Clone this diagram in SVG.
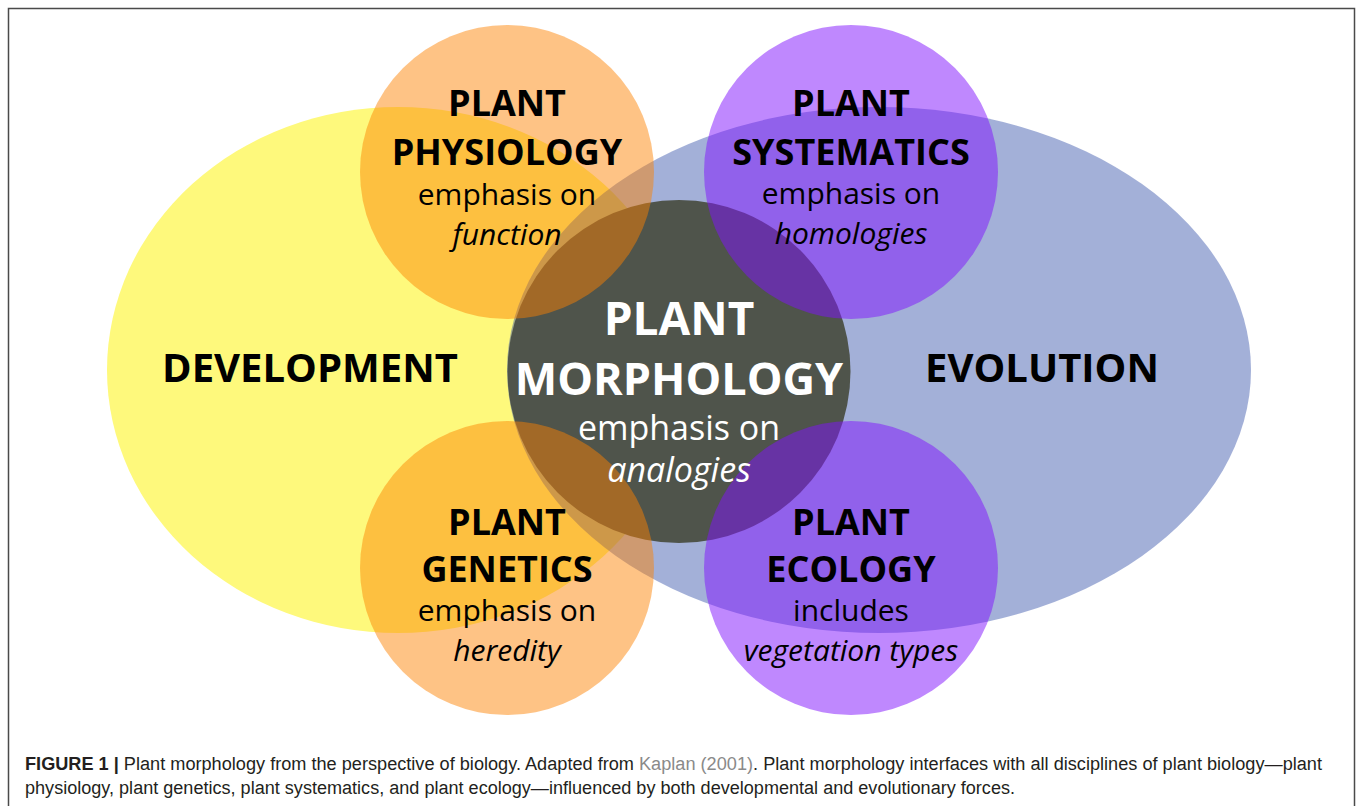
<svg xmlns="http://www.w3.org/2000/svg" width="1357" height="806" viewBox="0 0 1357 806">
<style>
.t{font-family:"Open Sans","Noto Sans","DejaVu Sans",sans-serif;text-anchor:middle;fill:#000}
.b{font-weight:700}
.h{font-size:36px}
.s{font-size:30px}
.i{font-style:italic}
.w{fill:#fff}
.cap{font-family:"Liberation Sans",Arial,sans-serif;font-size:18px;fill:#231f20}
</style>
<rect width="1357" height="806" fill="#fff"/>
<rect x="8.5" y="8.5" width="1346" height="820" fill="none" stroke="#4a4a4a" stroke-width="1.5"/>

<g id="development">
<ellipse cx="398" cy="370" rx="291" ry="263" fill="#fef97c"/>
<text class="t b" x="310" y="382" font-size="40">DEVELOPMENT</text>
</g>
<g id="evolution">
<ellipse cx="879" cy="370" rx="372" ry="263" fill="rgb(41,71,164)" fill-opacity="0.43"/>
<text class="t b" x="1042" y="382" font-size="40">EVOLUTION</text>
</g>
<g id="morphology">
<circle cx="679" cy="371.5" r="171.5" fill="#4f544b"/>
</g>
<g id="physiology">
<circle cx="507" cy="172" r="147" fill="rgb(253,130,0)" fill-opacity="0.48"/>
<text class="t b h" x="507" y="116">PLANT</text>
<text class="t b h" x="507" y="165">PHYSIOLOGY</text>
<text class="t s" x="507" y="205">emphasis on</text>
<text class="t s i" x="507" y="245">function</text>
</g>
<g id="systematics">
<circle cx="851" cy="172" r="147" fill="rgb(127,17,253)" fill-opacity="0.5"/>
<text class="t b h" x="851" y="116">PLANT</text>
<text class="t b h" x="851" y="165">SYSTEMATICS</text>
<text class="t s" x="851" y="204">emphasis on</text>
<text class="t s i" x="851" y="244">homologies</text>
</g>
<g id="genetics">
<circle cx="507" cy="568" r="147" fill="rgb(253,130,0)" fill-opacity="0.48"/>
<text class="t b h" x="507" y="535">PLANT</text>
<text class="t b h" x="507" y="582">GENETICS</text>
<text class="t s" x="507" y="621">emphasis on</text>
<text class="t s i" x="507" y="661">heredity</text>
</g>
<g id="ecology">
<circle cx="851" cy="568" r="147" fill="rgb(127,17,253)" fill-opacity="0.5"/>
<text class="t b h" x="851" y="535">PLANT</text>
<text class="t b h" x="851" y="582">ECOLOGY</text>
<text class="t s" x="851" y="621">includes</text>
<text class="t s i" x="851" y="661">vegetation types</text>
</g>
<g id="morphology-label">
<text class="t b w" x="679" y="335" font-size="46">PLANT</text>
<text class="t b w" x="679" y="395" font-size="45">MORPHOLOGY</text>
<text class="t w" x="679" y="440" font-size="34">emphasis on</text>
<text class="t w i" x="679" y="482" font-size="34">analogies</text>
</g>

<g id="caption">
<text class="cap" x="25" y="770" textLength="1297" lengthAdjust="spacingAndGlyphs"><tspan font-weight="700">FIGURE 1 |</tspan> Plant morphology from the perspective of biology. Adapted from <tspan fill="#8a8a8a">Kaplan (2001)</tspan>. Plant morphology interfaces with all disciplines of plant biology—plant</text>
<text class="cap" x="25" y="794" textLength="990" lengthAdjust="spacingAndGlyphs">physiology, plant genetics, plant systematics, and plant ecology—influenced by both developmental and evolutionary forces.</text>
</g>
</svg>
